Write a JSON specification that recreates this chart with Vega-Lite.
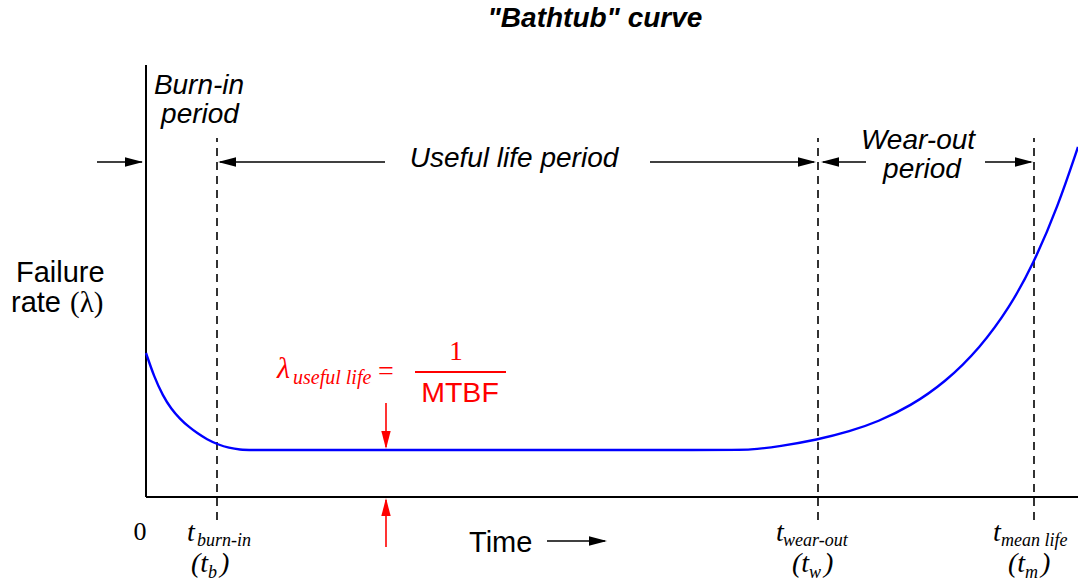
{
  "$schema": "https://vega.github.io/schema/vega-lite/v6.json",
  "width": 1078,
  "height": 588,
  "padding": 0,
  "autosize": {"type": "none"},
  "background": "white",
  "config": {"view": {"stroke": null}},
  "datasets": {
    "curve": [
      {"t": 0, "lam": 144}, {"t": 8, "lam": 120.5}, {"t": 17, "lam": 101}, {"t": 25, "lam": 88.5},
      {"t": 34, "lam": 78}, {"t": 43, "lam": 70}, {"t": 51, "lam": 64}, {"t": 61, "lam": 57.5},
      {"t": 72, "lam": 52.5}, {"t": 83, "lam": 49}, {"t": 94, "lam": 47.3}, {"t": 105, "lam": 47},
      {"t": 130, "lam": 47}, {"t": 350, "lam": 47}, {"t": 580, "lam": 47}, {"t": 604, "lam": 47},
      {"t": 634, "lam": 50.7}, {"t": 671, "lam": 57.2}, {"t": 704, "lam": 65.6}, {"t": 732, "lam": 75.3},
      {"t": 764, "lam": 90.7}, {"t": 799, "lam": 114.5}, {"t": 834, "lam": 148.9}, {"t": 864, "lam": 190.3},
      {"t": 887, "lam": 232.2}, {"t": 912, "lam": 290.8}, {"t": 932, "lam": 350.1}
    ],
    "axes": [
      {"t1": 0, "t2": 0, "lam1": 0, "lam2": 432},
      {"t1": 0, "t2": 932, "lam1": 0, "lam2": 0}
    ],
    "markers": [
      {"t": 71, "lam1": -23, "lam2": 359},
      {"t": 672, "lam1": -23, "lam2": 359},
      {"t": 888, "lam1": -23, "lam2": 359}
    ],
    "shafts": [
      {"t1": -49, "t2": -4, "lam1": 335, "lam2": 335, "part": "periods"},
      {"t1": 74, "t2": 239, "lam1": 335, "lam2": 335, "part": "periods"},
      {"t1": 504, "t2": 668, "lam1": 335, "lam2": 335, "part": "periods"},
      {"t1": 677, "t2": 720, "lam1": 335, "lam2": 335, "part": "periods"},
      {"t1": 839, "t2": 885, "lam1": 335, "lam2": 335, "part": "periods"},
      {"t1": 401, "t2": 459, "lam1": -44, "lam2": -44, "part": "time"},
      {"t1": 240, "t2": 240, "lam1": 94, "lam2": 50, "part": "lambda"},
      {"t1": 240, "t2": 240, "lam1": -50, "lam2": -3, "part": "lambda"}
    ],
    "heads": [
      {"t": -3, "lam": 335, "dir": "right", "part": "periods"},
      {"t": 72, "lam": 335, "dir": "left", "part": "periods"},
      {"t": 670, "lam": 335, "dir": "right", "part": "periods"},
      {"t": 675, "lam": 335, "dir": "left", "part": "periods"},
      {"t": 887, "lam": 335, "dir": "right", "part": "periods"},
      {"t": 461, "lam": -44, "dir": "right", "part": "time"},
      {"t": 240, "lam": 48, "dir": "down", "part": "lambda"},
      {"t": 240, "lam": -1, "dir": "up", "part": "lambda"}
    ],
    "fraction": [
      {"t1": 269, "t2": 360, "lam": 125}
    ],
    "texts": [
      {"label": "\"Bathtub\" curve", "t": 449, "lam": 470, "role": "title"},
      {"label": "Burn-in", "t": 53, "lam": 403, "role": "period"},
      {"label": "period", "t": 54, "lam": 374, "role": "period"},
      {"label": "Useful life period", "t": 368, "lam": 330, "role": "period"},
      {"label": "Wear-out", "t": 772, "lam": 348, "role": "period"},
      {"label": "period", "t": 776, "lam": 319, "role": "period"},
      {"label": "Failure", "t": -130, "lam": 215, "role": "axisTitle"},
      {"label": "rate", "t": -135, "lam": 185, "role": "axisTitle"},
      {"label": "Time", "t": 323, "lam": -55, "role": "axisTitle"},
      {"label": "(λ)", "t": -76, "lam": 185, "role": "axisSymbol"},
      {"label": "0", "t": -6, "lam": -43, "role": "origin"},
      {"label": "t", "t": 41, "lam": -44, "role": "tick"},
      {"label": "(t", "t": 45, "lam": -75, "role": "tick"},
      {"label": ")", "t": 74, "lam": -75, "role": "tick"},
      {"label": "t", "t": 630, "lam": -44, "role": "tick"},
      {"label": "(t", "t": 646, "lam": -75, "role": "tick"},
      {"label": ")", "t": 678, "lam": -75, "role": "tick"},
      {"label": "t", "t": 847, "lam": -44, "role": "tick"},
      {"label": "(t", "t": 862, "lam": -75, "role": "tick"},
      {"label": ")", "t": 895, "lam": -75, "role": "tick"},
      {"label": "burn-in", "t": 51, "lam": -49, "role": "tickSub"},
      {"label": "b", "t": 62, "lam": -81, "role": "tickSub"},
      {"label": "wear-out", "t": 637, "lam": -49, "role": "tickSub"},
      {"label": "w", "t": 663, "lam": -81, "role": "tickSub"},
      {"label": "mean life", "t": 855, "lam": -49, "role": "tickSub"},
      {"label": "m", "t": 879, "lam": -81, "role": "tickSub"},
      {"label": "λ", "t": 131, "lam": 119, "role": "lambda"},
      {"label": "useful life", "t": 147, "lam": 113, "role": "lambdaSub"},
      {"label": "=", "t": 232, "lam": 117, "role": "equals"},
      {"label": "1", "t": 310, "lam": 137, "role": "numerator"},
      {"label": "MTBF", "t": 314, "lam": 95, "role": "denominator"}
    ]
  },
  "encoding": {
    "x": {"type": "quantitative", "scale": {"domain": [-146, 932], "nice": false, "zero": false}, "axis": null},
    "y": {"type": "quantitative", "scale": {"domain": [-91, 497], "nice": false, "zero": false}, "axis": null}
  },
  "layer": [
    {
      "data": {"name": "axes"},
      "mark": {"type": "rule", "color": "black", "strokeWidth": 2},
      "encoding": {"x": {"field": "t1"}, "x2": {"field": "t2"}, "y": {"field": "lam1"}, "y2": {"field": "lam2"}}
    },
    {
      "data": {"name": "markers"},
      "mark": {"type": "rule", "color": "black", "strokeWidth": 1.6, "strokeDash": [8, 6]},
      "encoding": {"x": {"field": "t"}, "y": {"field": "lam1"}, "y2": {"field": "lam2"}}
    },
    {
      "data": {"name": "shafts"},
      "mark": {"type": "rule", "strokeWidth": 1.6},
      "encoding": {
        "x": {"field": "t1"}, "x2": {"field": "t2"}, "y": {"field": "lam1"}, "y2": {"field": "lam2"},
        "color": {"field": "part", "type": "nominal", "scale": {"domain": ["periods", "time", "lambda"], "range": ["black", "black", "#ff0000"]}, "legend": null}
      }
    },
    {
      "data": {"name": "heads"},
      "transform": [{"filter": "datum.dir === 'right'"}],
      "mark": {"type": "point", "shape": "M0,0L-1,-0.26L-1,0.26Z", "size": 1296, "filled": true, "opacity": 1, "strokeWidth": 0, "angle": 0},
      "encoding": {"x": {"field": "t"}, "y": {"field": "lam"}, "color": {"field": "part", "type": "nominal", "scale": {"domain": ["periods", "time", "lambda"], "range": ["black", "black", "#ff0000"]}, "legend": null}}
    },
    {
      "data": {"name": "heads"},
      "transform": [{"filter": "datum.dir === 'left'"}],
      "mark": {"type": "point", "shape": "M0,0L-1,-0.26L-1,0.26Z", "size": 1296, "filled": true, "opacity": 1, "strokeWidth": 0, "angle": 180},
      "encoding": {"x": {"field": "t"}, "y": {"field": "lam"}, "color": {"field": "part", "type": "nominal", "scale": {"domain": ["periods", "time", "lambda"], "range": ["black", "black", "#ff0000"]}, "legend": null}}
    },
    {
      "data": {"name": "heads"},
      "transform": [{"filter": "datum.dir === 'down'"}],
      "mark": {"type": "point", "shape": "M0,0L-1,-0.26L-1,0.26Z", "size": 1296, "filled": true, "opacity": 1, "strokeWidth": 0, "angle": 90},
      "encoding": {"x": {"field": "t"}, "y": {"field": "lam"}, "color": {"field": "part", "type": "nominal", "scale": {"domain": ["periods", "time", "lambda"], "range": ["black", "black", "#ff0000"]}, "legend": null}}
    },
    {
      "data": {"name": "heads"},
      "transform": [{"filter": "datum.dir === 'up'"}],
      "mark": {"type": "point", "shape": "M0,0L-1,-0.26L-1,0.26Z", "size": 1296, "filled": true, "opacity": 1, "strokeWidth": 0, "angle": 270},
      "encoding": {"x": {"field": "t"}, "y": {"field": "lam"}, "color": {"field": "part", "type": "nominal", "scale": {"domain": ["periods", "time", "lambda"], "range": ["black", "black", "#ff0000"]}, "legend": null}}
    },
    {
      "data": {"name": "curve"},
      "mark": {"type": "line", "color": "#0000ff", "strokeWidth": 2.4, "interpolate": "basis"},
      "encoding": {"x": {"field": "t"}, "y": {"field": "lam"}}
    },
    {
      "data": {"name": "fraction"},
      "mark": {"type": "rule", "color": "#ff0000", "strokeWidth": 2},
      "encoding": {"x": {"field": "t1"}, "x2": {"field": "t2"}, "y": {"field": "lam"}}
    },
    {
      "data": {"name": "texts"},
      "transform": [{"filter": "datum.role === 'title'"}],
      "mark": {"type": "text", "font": "Liberation Sans", "fontSize": 28, "fontWeight": "bold", "fontStyle": "italic", "align": "center", "baseline": "alphabetic", "color": "black"},
      "encoding": {"x": {"field": "t"}, "y": {"field": "lam"}, "text": {"field": "label"}}
    },
    {
      "data": {"name": "texts"},
      "transform": [{"filter": "datum.role === 'period'"}],
      "mark": {"type": "text", "font": "Liberation Sans", "fontSize": 28, "fontStyle": "italic", "align": "center", "baseline": "alphabetic", "color": "black"},
      "encoding": {"x": {"field": "t"}, "y": {"field": "lam"}, "text": {"field": "label"}}
    },
    {
      "data": {"name": "texts"},
      "transform": [{"filter": "datum.role === 'axisTitle'"}],
      "mark": {"type": "text", "font": "Liberation Sans", "fontSize": 29, "align": "left", "baseline": "alphabetic", "color": "black"},
      "encoding": {"x": {"field": "t"}, "y": {"field": "lam"}, "text": {"field": "label"}}
    },
    {
      "data": {"name": "texts"},
      "transform": [{"filter": "datum.role === 'axisSymbol'"}],
      "mark": {"type": "text", "font": "Liberation Serif", "fontSize": 29, "align": "left", "baseline": "alphabetic", "color": "black"},
      "encoding": {"x": {"field": "t"}, "y": {"field": "lam"}, "text": {"field": "label"}}
    },
    {
      "data": {"name": "texts"},
      "transform": [{"filter": "datum.role === 'origin'"}],
      "mark": {"type": "text", "font": "Liberation Serif", "fontSize": 26, "align": "center", "baseline": "alphabetic", "color": "black"},
      "encoding": {"x": {"field": "t"}, "y": {"field": "lam"}, "text": {"field": "label"}}
    },
    {
      "data": {"name": "texts"},
      "transform": [{"filter": "datum.role === 'tick'"}],
      "mark": {"type": "text", "font": "Liberation Serif", "fontSize": 28, "fontStyle": "italic", "align": "left", "baseline": "alphabetic", "color": "black"},
      "encoding": {"x": {"field": "t"}, "y": {"field": "lam"}, "text": {"field": "label"}}
    },
    {
      "data": {"name": "texts"},
      "transform": [{"filter": "datum.role === 'tickSub'"}],
      "mark": {"type": "text", "font": "Liberation Serif", "fontSize": 18, "fontStyle": "italic", "align": "left", "baseline": "alphabetic", "color": "black"},
      "encoding": {"x": {"field": "t"}, "y": {"field": "lam"}, "text": {"field": "label"}}
    },
    {
      "data": {"name": "texts"},
      "transform": [{"filter": "datum.role === 'lambda'"}],
      "mark": {"type": "text", "font": "Liberation Serif", "fontSize": 30, "fontStyle": "italic", "align": "left", "baseline": "alphabetic", "color": "#ff0000"},
      "encoding": {"x": {"field": "t"}, "y": {"field": "lam"}, "text": {"field": "label"}}
    },
    {
      "data": {"name": "texts"},
      "transform": [{"filter": "datum.role === 'lambdaSub'"}],
      "mark": {"type": "text", "font": "Liberation Serif", "fontSize": 20, "fontStyle": "italic", "align": "left", "baseline": "alphabetic", "color": "#ff0000"},
      "encoding": {"x": {"field": "t"}, "y": {"field": "lam"}, "text": {"field": "label"}}
    },
    {
      "data": {"name": "texts"},
      "transform": [{"filter": "datum.role === 'equals'"}],
      "mark": {"type": "text", "font": "Liberation Serif", "fontSize": 28, "align": "left", "baseline": "alphabetic", "color": "#ff0000"},
      "encoding": {"x": {"field": "t"}, "y": {"field": "lam"}, "text": {"field": "label"}}
    },
    {
      "data": {"name": "texts"},
      "transform": [{"filter": "datum.role === 'numerator'"}],
      "mark": {"type": "text", "font": "Liberation Serif", "fontSize": 27, "align": "center", "baseline": "alphabetic", "color": "#ff0000"},
      "encoding": {"x": {"field": "t"}, "y": {"field": "lam"}, "text": {"field": "label"}}
    },
    {
      "data": {"name": "texts"},
      "transform": [{"filter": "datum.role === 'denominator'"}],
      "mark": {"type": "text", "font": "Liberation Sans", "fontSize": 28.5, "align": "center", "baseline": "alphabetic", "color": "#ff0000"},
      "encoding": {"x": {"field": "t"}, "y": {"field": "lam"}, "text": {"field": "label"}}
    }
  ]
}
